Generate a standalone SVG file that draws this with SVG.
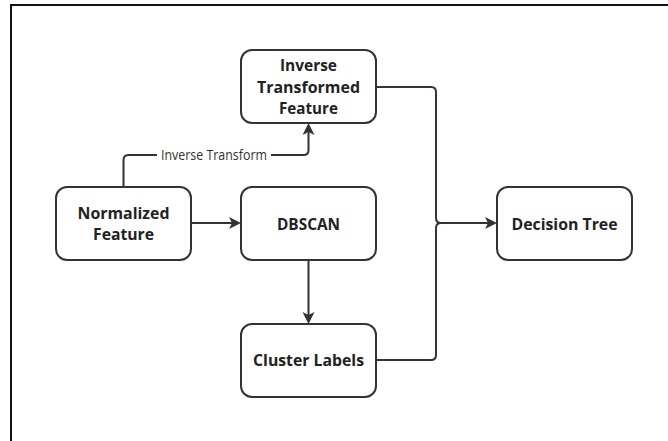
<svg xmlns="http://www.w3.org/2000/svg" width="668" height="441" viewBox="0 0 668 441">
<style>
.node rect{fill:#fff;stroke:#333;stroke-width:2}
.node text{font-family:"Open Sans","Liberation Sans",sans-serif;font-weight:700;font-size:16px;fill:#222;text-anchor:middle}
.edge{fill:none;stroke:#333;stroke-width:2}
.lbl{font-family:"Open Sans","Liberation Sans",sans-serif;font-size:14px;fill:#333;text-anchor:middle}
</style>
<defs>
<marker id="arr" markerUnits="userSpaceOnUse" markerWidth="14" markerHeight="14" refX="9" refY="6" orient="auto">
<path d="M0,0 L12,6 L0,12 L3,6 Z" fill="#333"/>
</marker>
</defs>
<rect width="668" height="441" fill="#fff"/>
<path d="M11,441 V5 H668" fill="none" stroke="#111" stroke-width="2"/>
<g id="connectors">
<path class="edge" d="M191.5,223 H238" marker-end="url(#arr)"/>
<path class="edge" d="M308.5,260 V321" marker-end="url(#arr)"/>
<path class="edge" d="M123.5,187 V160 Q123.5,155 128.5,155 H303.5 Q308.5,155 308.5,150 V126" marker-end="url(#arr)"/>
<rect x="157" y="146" width="114" height="18" fill="#fff"/>
<text class="lbl" x="214" y="160" textLength="106" lengthAdjust="spacingAndGlyphs">Inverse Transform</text>
<path class="edge" d="M376,87 H431 Q436,87 436,92 V218 Q436,223 441,223 H494" marker-end="url(#arr)"/>
<path class="edge" d="M376,360 H431 Q436,360 436,355 V228 Q436,223 441,223"/>
</g>
<g id="inverse" class="node">
<rect x="241" y="50" width="135" height="73" rx="11"/>
<text x="308.5" y="71" textLength="57" lengthAdjust="spacingAndGlyphs">Inverse</text>
<text x="308.5" y="92.5" textLength="103" lengthAdjust="spacingAndGlyphs">Transformed</text>
<text x="308.5" y="114" textLength="59" lengthAdjust="spacingAndGlyphs">Feature</text>
</g>
<g id="normalized" class="node">
<rect x="56" y="187" width="135" height="73" rx="11"/>
<text x="123.5" y="218.5" textLength="92" lengthAdjust="spacingAndGlyphs">Normalized</text>
<text x="123.5" y="240" textLength="61" lengthAdjust="spacingAndGlyphs">Feature</text>
</g>
<g id="dbscan" class="node">
<rect x="241" y="187" width="135" height="73" rx="11"/>
<text x="308.5" y="229.5" textLength="63" lengthAdjust="spacingAndGlyphs">DBSCAN</text>
</g>
<g id="cluster" class="node">
<rect x="241" y="324" width="135" height="73" rx="11"/>
<text x="308.5" y="365.5" textLength="111" lengthAdjust="spacingAndGlyphs">Cluster Labels</text>
</g>
<g id="decision" class="node">
<rect x="497" y="187" width="135" height="73" rx="11"/>
<text x="564.5" y="229.5" textLength="106" lengthAdjust="spacingAndGlyphs">Decision Tree</text>
</g>
</svg>
